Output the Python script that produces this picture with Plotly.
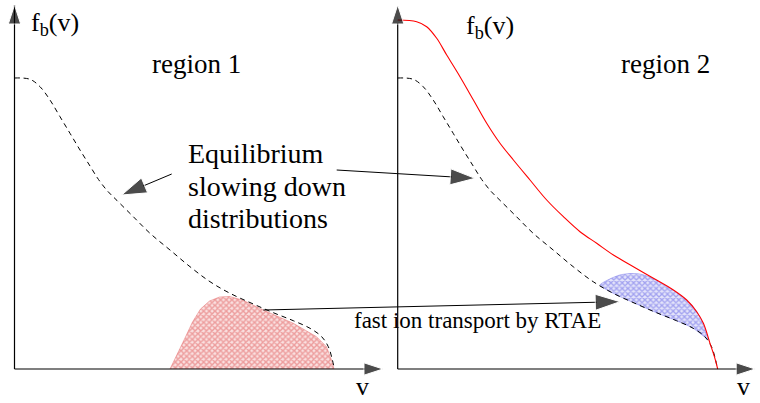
import plotly.graph_objects as go

# ---------------- data (schematic units, origin at each panel's axes corner) ----
P2 = 383.2  # horizontal offset of region-2 panel origin

# equilibrium slowing-down distribution (dashed, identical in both regions)
v_eq = [0, 15.5, 25.5, 35.5, 45.5, 55.5, 65.5, 75.5, 84, 93, 102.5, 118.8, 135.5,
        155.5, 175.5, 195.5, 215.5, 238.8, 258.8, 278.8, 295.5, 307.2, 313.8, 317.5, 319.8]
f_eq = [291, 289.7, 282.3, 269, 252.3, 235.7, 219, 203, 189.5, 178, 168.5, 152.3, 135.7,
        119, 102.3, 87.3, 75.7, 65, 56.3, 48.3, 40.7, 32.3, 22.3, 10.7, 0]

# region-2 distribution after fast-ion transport (red)
v_r2 = [0, 19, 29, 39, 49, 62.3, 75.7, 89, 102.3, 115.7, 132.3, 149, 165.7, 182.3,
        199, 215.7, 235.7, 255.7, 275.7, 289, 299, 305.7, 312.3, 316.7, 320]
f_r2 = [349, 347.3, 342.3, 330.7, 314, 292.3, 269, 245.7, 225.7, 209, 189, 169, 152.3,
        137.3, 125.7, 114, 102.3, 90.7, 79, 69, 57.3, 45.7, 25.7, 12.3, 0]

# ions removed from region 1 (red hatched)
v_h1 = [155.5, 163, 170, 178, 186, 195, 205, 215, 228, 248.8, 278.8, 302, 312, 317, 319.5]
f_h1 = [0, 15, 30, 47, 60, 68, 72, 72.5, 69, 59, 45.7, 32.3, 22.3, 9, 0]

# ions added to region 2 (blue hatched): upper edge, then lower edge
v_h2_top = [202.3, 212, 222, 232, 242, 252.3, 264, 275.7, 285, 292.3, 298, 303, 307, 310.6]
f_h2_top = [84, 90, 94, 95.5, 95, 92, 85.5, 78.5, 72, 66, 59, 50.5, 40.5, 29]
v_h2_bot = [310.6, 295.5, 278.8, 258.8, 238.8, 215.5, 202.3]
f_h2_bot = [29, 40.7, 48.3, 56.3, 65, 75.7, 84]

# axis lengths
V_LEN = [368.5, 357.5]
F_LEN = 364

# annotation arrows: (tail, head)
arrows = [
    ((157.2, 195), (107.2, 174)),
    ((322.2, 199), (460.5, 190.7)),
    ((248.8, 59), (605.5, 67.3)),
]

FONT = "Liberation Serif"


def sh(v, dx):
    return [x + dx for x in v]


fig = go.Figure()

# hatched areas
fig.add_trace(go.Scatter(
    x=v_h1, y=f_h1, mode="lines", fill="tozeroy",
    line=dict(width=0.6, color="rgba(225,90,90,0.7)"),
    fillcolor="#f8d8d8",
    fillpattern=dict(shape="x", fgcolor="#e05a5a", bgcolor="#fae0e0", size=4, solidity=0.6),
    hoverinfo="skip"))
fig.add_trace(go.Scatter(
    x=sh(v_h2_top + v_h2_bot, P2), y=f_h2_top + f_h2_bot, mode="lines", fill="toself",
    line=dict(width=0.6, color="rgba(100,100,230,0.7)", shape="spline", smoothing=0.6),
    fillcolor="#dcdcf8",
    fillpattern=dict(shape="x", fgcolor="#6060e6", bgcolor="#e4e4fa", size=4, solidity=0.55),
    hoverinfo="skip"))

# dashed equilibrium curves
for dx in (0, P2):
    fig.add_trace(go.Scatter(
        x=sh(v_eq, dx), y=f_eq, mode="lines",
        line=dict(color="black", width=1, dash="5px,4px", shape="spline"),
        hoverinfo="skip"))

# red curve region 2
fig.add_trace(go.Scatter(
    x=sh(v_r2, P2), y=f_r2, mode="lines",
    line=dict(color="red", width=1.1, shape="spline"),
    hoverinfo="skip"))

# axes with arrowheads
for dx, vl in zip((0, P2), V_LEN):
    for xs, ys in (([dx, dx + vl], [0, 0]), ([dx, dx], [0, F_LEN])):
        fig.add_trace(go.Scatter(
            x=xs, y=ys, mode="lines+markers",
            line=dict(color="black", width=1.2),
            marker=dict(symbol="arrow", size=[0, 20], angleref="previous", color="black"),
            hoverinfo="skip"))

# annotation arrows
for (tx, ty), (hx, hy) in arrows:
    fig.add_trace(go.Scatter(
        x=[tx, hx], y=[ty, hy], mode="lines+markers",
        line=dict(color="black", width=1),
        marker=dict(symbol="arrow", size=[0, 26], angleref="previous", color="black"),
        hoverinfo="skip"))


def txt(x, y, s, size, xanchor="center"):
    fig.add_annotation(x=x, y=y, text=s, showarrow=False, xanchor=xanchor, yanchor="top",
                       borderpad=0, font=dict(family=FONT, size=size, color="black"))


txt(40, 362, "f<sub>b</sub>(v)", 26)
txt(P2 + 92.3, 359.2, "f<sub>b</sub>(v)", 26)
txt(181.5, 321.4, "region 1", 27)
txt(650.5, 321.4, "region 2", 27)
txt(172.8, 232.2, "Equilibrium", 28, "left")
txt(172.8, 199.4, "slowing down", 28, "left")
txt(172.8, 166.6, "distributions", 28, "left")
txt(463, 62.5, "fast ion transport by RTAE", 23)
txt(347.5, -1.5, "v", 26)
txt(728.5, -1.5, "v", 26)

fig.update_layout(
    width=760, height=403, margin=dict(l=0, r=0, t=0, b=0),
    paper_bgcolor="white", plot_bgcolor="white", showlegend=False,
    xaxis=dict(range=[-14.5, 745.5], visible=False, fixedrange=True),
    yaxis=dict(range=[-34, 369], visible=False, fixedrange=True),
)

fig.write_html("out.html", config={"displayModeBar": False},
               post_script="document.body.style.margin='0';document.body.style.padding='0';")
